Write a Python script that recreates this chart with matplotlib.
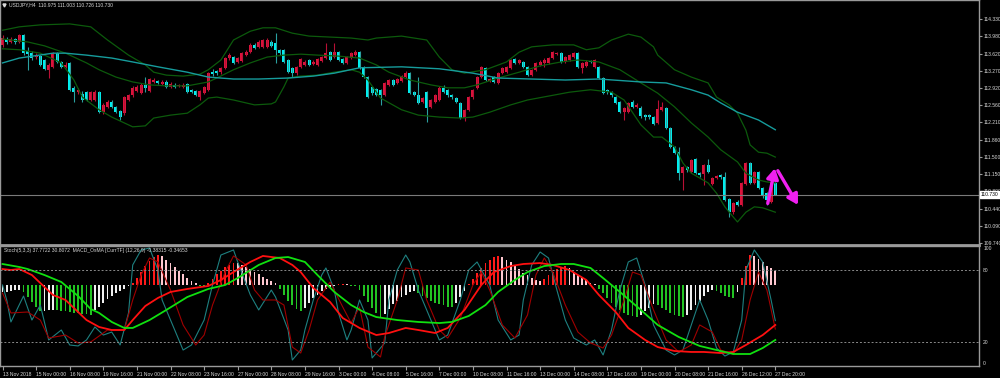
import numpy as np
import matplotlib.pyplot as plt

# ---- USDJPY H4 candles (13 Nov - 27 Dec 2018) ----
opens = [113.80, 113.90, 113.86, 113.92, 113.86, 114.00, 113.67, 113.63, 113.55, 113.57,
         113.49, 113.29, 113.35, 113.63, 113.45, 113.35, 113.43, 112.92, 112.83, 112.79,
         112.83, 112.67, 112.67, 112.83, 112.42, 112.53, 112.63, 112.53, 112.45, 112.40,
         112.67, 112.77, 112.86, 112.81, 112.98, 112.86, 113.04, 113.06, 113.00, 113.04,
         112.94, 112.98, 112.95, 112.94, 113.00, 112.88, 112.86, 112.73, 112.81, 112.88,
         113.24, 113.26, 113.24, 113.33, 113.53, 113.55, 113.45, 113.47, 113.59, 113.65,
         113.80, 113.76, 113.76, 113.76, 113.86, 113.84, 113.70, 113.70, 113.49, 113.33,
         113.22, 113.35, 113.39, 113.49, 113.41, 113.39, 113.47, 113.53, 113.65, 113.55,
         113.65, 113.51, 113.43, 113.53, 113.59, 113.65, 113.35, 113.14, 112.94, 112.90,
         112.88, 112.77, 112.98, 113.08, 113.02, 113.06, 113.14, 113.22, 112.83, 112.77,
         112.63, 112.83, 112.53, 112.63, 112.67, 112.92, 112.88, 112.77, 112.71, 112.61,
         112.30, 112.47, 112.73, 112.92, 113.14, 113.33, 113.06, 113.14, 113.02, 113.22,
         113.24, 113.33, 113.51, 113.43, 113.45, 113.35, 113.18, 113.29, 113.39, 113.43,
         113.43, 113.53, 113.61, 113.63, 113.45, 113.49, 113.55, 113.63, 113.33, 113.37,
         113.47, 113.35, 113.35, 113.12, 112.88, 112.83, 112.73, 112.63, 112.42, 112.42,
         112.63, 112.53, 112.51, 112.36, 112.36, 112.32, 112.20, 112.47, 112.51, 112.10,
         111.71, 111.60, 111.17, 111.30, 111.19, 111.46, 111.17, 111.15, 111.34, 110.95,
         111.07, 111.13, 111.09, 110.64, 110.37, 110.58, 110.52, 110.95, 111.38, 110.97,
         111.19, 110.87, 110.76, 110.58, 110.975]
highs = [114.00, 113.96, 113.96, 113.94, 114.03, 114.02, 113.75, 113.67, 113.63, 113.60,
         113.52, 113.42, 113.66, 113.66, 113.47, 113.45, 113.45, 112.95, 112.92, 112.86,
         112.86, 112.86, 112.87, 112.86, 112.60, 112.66, 112.66, 112.55, 112.47, 112.76,
         112.80, 112.95, 112.97, 113.01, 113.14, 113.13, 113.12, 113.09, 113.07, 113.07,
         113.03, 113.01, 113.00, 113.01, 113.02, 112.90, 112.88, 112.88, 112.96, 113.25,
         113.30, 113.28, 113.35, 113.55, 113.63, 113.58, 113.56, 113.66, 113.69, 113.83,
         113.83, 113.89, 113.93, 113.95, 113.89, 114.04, 113.72, 113.72, 113.51, 113.35,
         113.37, 113.53, 113.48, 113.51, 113.48, 113.53, 113.58, 113.84, 113.68, 113.84,
         113.68, 113.53, 113.57, 113.66, 113.69, 113.67, 113.37, 113.16, 112.96, 112.92,
         112.90, 113.04, 113.11, 113.11, 113.13, 113.19, 113.26, 113.24, 112.86, 113.14,
         112.74, 112.86, 112.69, 112.80, 112.95, 112.97, 112.90, 112.80, 112.74, 112.63,
         112.49, 112.76, 112.90, 113.16, 113.37, 113.35, 113.13, 113.16, 113.24, 113.35,
         113.37, 113.51, 113.53, 113.52, 113.47, 113.37, 113.31, 113.45, 113.48, 113.54,
         113.56, 113.68, 113.66, 113.66, 113.58, 113.62, 113.66, 113.66, 113.45, 113.48,
         113.50, 113.52, 113.37, 113.14, 112.90, 112.86, 112.75, 112.65, 112.53, 112.63,
         112.66, 112.60, 112.55, 112.38, 112.38, 112.34, 112.67, 112.63, 112.53, 112.12,
         111.73, 111.71, 111.32, 111.32, 111.47, 111.49, 111.19, 111.36, 111.46, 111.09,
         111.14, 111.15, 111.20, 110.66, 110.58, 110.62, 110.99, 111.40, 111.40, 111.22,
         111.22, 110.89, 110.79, 111.09, 111.003]
lows = [113.76, 113.82, 113.83, 113.82, 113.84, 113.60, 113.29, 113.50, 113.52, 113.36,
        113.28, 113.12, 113.32, 113.42, 113.32, 113.33, 112.85, 112.63, 112.80, 112.63,
        112.64, 112.64, 112.64, 112.40, 112.38, 112.50, 112.50, 112.40, 112.26, 112.37,
        112.64, 112.74, 112.83, 112.79, 112.83, 112.84, 113.02, 112.99, 112.97, 112.92,
        112.91, 112.91, 112.93, 112.91, 112.81, 112.81, 112.75, 112.67, 112.79, 112.85,
        113.17, 113.19, 113.21, 113.30, 113.50, 113.40, 113.42, 113.44, 113.57, 113.63,
        113.71, 113.73, 113.73, 113.73, 113.75, 113.43, 113.60, 113.42, 113.22, 113.14,
        113.19, 113.32, 113.36, 113.36, 113.38, 113.36, 113.44, 113.51, 113.47, 113.53,
        113.47, 113.40, 113.40, 113.51, 113.57, 113.30, 113.12, 112.71, 112.78, 112.75,
        112.57, 112.75, 112.96, 112.96, 113.00, 113.04, 113.12, 112.79, 112.75, 112.59,
        112.60, 112.22, 112.50, 112.60, 112.65, 112.81, 112.74, 112.70, 112.60, 112.28,
        112.24, 112.44, 112.70, 112.90, 113.12, 113.06, 113.04, 113.01, 113.00, 113.20,
        113.22, 113.30, 113.40, 113.41, 113.32, 113.16, 113.16, 113.26, 113.37, 113.35,
        113.41, 113.51, 113.59, 113.43, 113.42, 113.46, 113.53, 113.32, 113.22, 113.35,
        113.42, 113.32, 113.10, 112.79, 112.80, 112.74, 112.58, 112.40, 112.26, 112.40,
        112.50, 112.50, 112.31, 112.26, 112.29, 112.15, 112.17, 112.45, 112.07, 111.68,
        111.56, 111.03, 110.83, 111.20, 111.17, 111.15, 111.10, 110.93, 111.17, 110.92,
        111.05, 111.06, 110.60, 110.27, 110.34, 110.49, 110.49, 110.93, 110.94, 110.94,
        110.84, 110.67, 110.52, 110.55, 110.726]
closes = [113.94, 113.86, 113.92, 113.86, 114.00, 113.63, 113.61, 113.53, 113.59, 113.39,
          113.31, 113.39, 113.63, 113.45, 113.35, 113.39, 112.88, 112.83, 112.88, 112.67,
          112.67, 112.83, 112.83, 112.42, 112.57, 112.63, 112.53, 112.42, 112.32, 112.73,
          112.77, 112.92, 112.94, 112.98, 112.92, 113.10, 113.08, 113.02, 113.04, 112.94,
          113.00, 112.94, 112.97, 112.98, 112.83, 112.84, 112.77, 112.86, 112.94, 113.22,
          113.20, 113.22, 113.33, 113.53, 113.59, 113.43, 113.53, 113.63, 113.65, 113.80,
          113.74, 113.86, 113.90, 113.90, 113.78, 113.70, 113.63, 113.45, 113.24, 113.22,
          113.35, 113.51, 113.45, 113.39, 113.45, 113.51, 113.55, 113.63, 113.49, 113.65,
          113.49, 113.43, 113.55, 113.63, 113.65, 113.33, 113.14, 112.73, 112.81, 112.77,
          112.77, 113.02, 113.08, 112.98, 113.10, 113.16, 113.22, 112.81, 112.77, 112.61,
          112.71, 112.51, 112.67, 112.77, 112.92, 112.83, 112.77, 112.73, 112.63, 112.30,
          112.47, 112.73, 112.88, 113.14, 113.35, 113.08, 113.10, 113.04, 113.22, 113.33,
          113.35, 113.49, 113.43, 113.49, 113.35, 113.18, 113.29, 113.43, 113.45, 113.49,
          113.53, 113.65, 113.63, 113.45, 113.55, 113.59, 113.63, 113.35, 113.43, 113.45,
          113.45, 113.49, 113.12, 112.81, 112.83, 112.77, 112.61, 112.42, 112.51, 112.61,
          112.53, 112.57, 112.34, 112.32, 112.32, 112.18, 112.49, 112.53, 112.10, 111.71,
          111.58, 111.17, 111.30, 111.24, 111.44, 111.17, 111.13, 111.34, 111.19, 111.07,
          111.11, 111.09, 110.62, 110.37, 110.56, 110.52, 110.97, 111.38, 110.97, 111.19,
          110.87, 110.70, 110.62, 110.97, 110.730]

# Bollinger bands and slow MA, sampled at bar indices
band_idx = [0, 4, 9, 16, 21, 25, 30, 34, 36, 39, 43, 47, 49, 52, 55, 59, 62, 65, 69, 73,
            78, 83, 87, 89, 95, 101, 104, 107, 110, 115, 120, 123, 126, 131, 136, 139, 142,
            145, 149, 152, 155, 156, 160, 164, 168, 170, 173, 175, 177, 178, 180, 182, 184]
upper_band = [114.10, 114.17, 114.21, 114.23, 114.17, 113.90, 113.59, 113.39, 113.24, 113.18,
              113.16, 113.20, 113.29, 113.49, 113.90, 114.08, 114.15, 114.15, 114.04, 113.98,
              113.96, 113.94, 113.90, 113.94, 113.98, 113.90, 113.55, 113.29, 113.22, 113.29,
              113.45, 113.65, 113.76, 113.80, 113.80, 113.70, 113.74, 113.90, 114.02, 113.96,
              113.76, 113.59, 113.29, 113.14, 113.02, 112.73, 112.57, 112.40, 112.05, 111.75,
              111.60, 111.58, 111.50]
mid_idx = [0, 6, 10, 15, 20, 23, 27, 31, 35, 39, 44, 49, 51, 55, 59, 63, 67, 71, 75, 80,
           85, 89, 92, 97, 102, 106, 110, 113, 118, 123, 128, 133, 137, 142, 147, 152, 156,
           160, 164, 168, 171, 175, 177, 180, 182, 184]
mid_band = [113.92, 113.86, 113.78, 113.63, 113.43, 113.29, 113.14, 113.04, 112.98, 112.96,
            112.96, 113.04, 113.12, 113.29, 113.43, 113.55, 113.59, 113.61, 113.59, 113.57,
            113.53, 113.39, 113.24, 113.08, 112.98, 112.92, 112.92, 112.98, 113.12, 113.24,
            113.37, 113.45, 113.49, 113.45, 113.29, 113.02, 112.81, 112.53, 112.20, 111.91,
            111.65, 111.40, 111.17, 111.03, 110.99, 110.97]
low_idx = [0, 4, 9, 14, 17, 19, 23, 26, 31, 34, 36, 40, 44, 47, 49, 51, 55, 60, 64, 65,
           67, 68, 71, 75, 79, 83, 85, 87, 90, 95, 99, 104, 109, 112, 116, 121, 125, 130,
           135, 140, 145, 148, 152, 155, 157, 160, 162, 164, 168, 170, 172, 174, 175, 177,
           179, 181, 184]
lower_band = [113.72, 113.70, 113.63, 113.43, 113.08, 112.73, 112.47, 112.32, 112.12, 112.14,
              112.30, 112.36, 112.40, 112.57, 112.71, 112.73, 112.67, 112.57, 112.59, 112.63,
              112.94, 113.12, 113.16, 113.18, 113.24, 113.29, 113.24, 113.08, 112.71, 112.47,
              112.36, 112.32, 112.30, 112.32, 112.42, 112.57, 112.67, 112.75, 112.83, 112.88,
              112.83, 112.67, 112.16, 111.91, 111.91, 111.71, 111.38, 111.17, 110.97, 110.76,
              110.48, 110.27, 110.17, 110.37, 110.48, 110.46, 110.37]
ma_idx = [0, 4, 12, 15, 20, 26, 31, 37, 44, 49, 55, 61, 68, 74, 79, 85, 95, 104, 112, 118,
          126, 134, 142, 152, 158, 164, 168, 171, 175, 180, 184]
slow_ma = [113.43, 113.53, 113.63, 113.63, 113.59, 113.53, 113.45, 113.35, 113.24, 113.14,
           113.10, 113.10, 113.12, 113.16, 113.22, 113.33, 113.35, 113.31, 113.22, 113.12,
           113.10, 113.08, 113.10, 113.04, 113.02, 112.88, 112.77, 112.61, 112.42, 112.26,
           112.06]
last_price = 110.730
price_ticks = [114.330, 113.980, 113.620, 113.270, 112.920, 112.560, 112.210, 111.860,
               111.500, 111.150, 110.800, 110.440, 110.090, 109.740]

# ---- lower window (drawn on its 0-100 scale): OsMA histogram, MACD lines, Stochastic ----
osma = [-6, -5.5, -5, -4.5, -4, -6, -10, -14, -18, -22,
        -21.5, -21, -20.5, -21, -21.5, -22, -22.5, -23, -23.5, -24,
        -24.5, -25, -21, -18, -15, -12, -9, -7, -5, -3,
        -0.5, 2, 6, 11, 16, 20, 23, 25, 24, 21,
        18, 15, 12, 9, 6, 3.5, 1.5, -1, -1.5, 2,
        5, 9, 12, 15, 17, 18.5, 18, 16.5, 15, 13,
        11, 9, 7, 5, 3, 1.5, -3, -8, -13, -17,
        -20, -22, -19, -15, -11, -8, -5, -3, -2, -1,
        0.5, 1, 0.5, -0.5, -1, -4, -9, -14, -19, -23,
        -27, -24, -20, -16, -13, -10, -8, -6, -5, -7,
        -9, -11, -13, -15, -16, -17, -18, -18.5, -15, -10,
        -5, 1, 5, 10, 14, 18, 21, 23, 24, 23,
        21, 19, 16, 13, 10, 8, 6, 4, 3, 5,
        8, 11, 13, 15, 16, 14, 11, 8, 6, 4,
        2, 0.5, -3, -7, -11, -15, -18, -21, -23, -25,
        -26, -27, -25, -22, -19, -16, -17, -19, -21, -23,
        -25, -26, -27, -25, -21, -17, -13, -9, -6, -4,
        -5, -7, -9, -10, -11, -6, 6, 16, 25, 24,
        22, 19, 16, 14, 12]
osma_zero = 67.5

macd_idx = [0, 2, 4, 7, 10, 12, 15, 20, 23, 26, 29, 31, 34, 37, 40, 44, 49, 52, 55, 59,
            62, 66, 69, 71, 74, 78, 81, 85, 89, 92, 96, 99, 103, 106, 110, 114, 117, 121, 124, 128,
            131, 135, 139, 142, 146, 149, 153, 156, 160, 164, 167, 171, 174, 177, 181, 184]
macd_line = [80.8, 80, 80.8, 75.8, 65.8, 59.2, 55, 38.3, 32.5, 30, 30, 38.3, 50, 56.7, 61.7,
             64.2, 66.7, 71.7, 78.3, 86.7, 91.7, 90, 84.2, 78.3, 65, 53.3, 40, 31.7, 25.8, 27.5,
             31.7, 30, 27.5, 31.7, 46.7, 67.5, 78.3, 83.3, 85, 85.8, 84.2, 80, 71.7, 59.2, 45,
             31.7, 21.7, 15.8, 12.5, 11.7, 11.7, 10.8, 11.7, 17.5, 25.8, 34.2]
sig_idx = [0, 4, 6, 10, 14, 18, 21, 23, 26, 29, 31, 35, 39, 44, 49, 53, 56, 61, 65, 68,
           72, 75, 79, 83, 86, 89, 94, 99, 104, 107, 111, 115, 118, 122, 125, 129, 133, 136, 140, 143,
           147, 152, 156, 161, 166, 171, 174, 178, 181, 184]
signal_line = [85, 82.5, 80.8, 75.8, 70, 58.3, 47.5, 44.2, 36.7, 31.7, 31.7, 38.3, 46.7, 57.5,
               64.2, 67.5, 73.3, 84.2, 90, 90.8, 86.7, 75.8, 61.7, 50.8, 45, 40.8, 38.3, 36.7,
               35.8, 36.7, 41.7, 50.8, 61.7, 71.7, 78.3, 83.3, 85, 85, 81.7, 73.3, 61.7, 46.7,
               34.2, 24.2, 16.7, 12.5, 10, 10, 15, 21.7]

k_idx = [0, 1, 2, 5, 7, 9, 11, 14, 16, 18, 20, 22, 24, 26, 28, 30, 31, 33, 35, 37,
         38, 41, 43, 45, 48, 50, 52, 55, 56, 59, 61, 64, 65, 68, 69, 71, 72, 74, 76, 77,
         79, 80, 82, 83, 85, 87, 88, 91, 92, 94, 96, 97, 99, 102, 104, 106, 109, 111, 113, 116,
         118, 121, 123, 124, 126, 128, 130, 132, 134, 136, 139, 141, 143, 145, 147, 149, 151, 153,
         155, 158, 160, 162, 164, 166, 168, 170, 172, 174, 176, 177, 179, 181, 183, 184]
stoch_k = [67.5, 55, 36.7, 58.3, 38.3, 50.8, 21.7, 30, 17.5, 16.7, 21.7, 32.5, 25.8, 28.3,
           17.5, 44.2, 84.2, 96.7, 98.3, 80, 55, 30, 13.3, 17.5, 38.3, 67.5, 92.5, 96.7, 86.7,
           59.2, 46.7, 63.3, 57.5, 30, 5, 13.3, 30, 55, 75.8, 81.7, 63.3, 44.2, 21.7, 30, 55,
           38.3, 6.7, 19.2, 55, 80, 92.5, 86.7, 63.3, 38.3, 21.7, 25.8, 55, 80, 86.7, 67.5,
           38.3, 21.7, 25.8, 55, 84.2, 95, 90, 63.3, 38.3, 23.3, 17.5, 21.7, 9.2, 30, 63.3,
           86.7, 90, 67.5, 34.2, 13.3, 9.2, 13.3, 34.2, 55, 38.3, 15, 8.3, 11.7, 38.3, 80,
           96.7, 86.7, 55, 37.8]
d_idx = [0, 2, 6, 9, 11, 15, 18, 21, 25, 29, 31, 33, 35, 37, 40, 43, 46, 48, 50, 53,
         55, 58, 60, 62, 65, 67, 69, 71, 73, 75, 78, 81, 83, 85, 87, 90, 91, 94, 96, 99,
         101, 104, 106, 109, 112, 114, 116, 119, 122, 125, 127, 129, 131, 134, 137, 140, 143, 145,
         148, 150, 152, 155, 158, 161, 164, 166, 169, 171, 174, 176, 178, 180, 182, 184]
stoch_d = [60.8, 44.2, 45, 38.3, 23.3, 25.8, 19.2, 20, 30, 30, 55, 75.8, 90, 86.7, 63.3, 34.2,
           17.5, 25.8, 50.8, 78.3, 91.7, 84.2, 63.3, 55, 55, 50.8, 15.8, 10.8, 30, 55, 70, 49.2,
           35.8, 49.2, 15.8, 7.5, 24.2, 55, 81.7, 80, 55, 30, 23.3, 40, 67.5, 78.3, 63.3, 34.2,
           23.3, 42.5, 75.8, 90, 78.3, 50.8, 28.3, 19.2, 15, 25.8, 55, 78.3, 75.8, 46.7, 21.7,
           11.7, 17.5, 34.2, 28.3, 13.3, 10, 21.7, 55, 78.3, 63.3, 30.8]

time_labels = ["13 Nov 2018", "15 Nov 00:00", "16 Nov 08:00", "19 Nov 16:00", "21 Nov 00:00",
               "22 Nov 08:00", "23 Nov 16:00", "27 Nov 00:00", "28 Nov 08:00", "29 Nov 16:00",
               "3 Dec 00:00", "4 Dec 08:00", "5 Dec 16:00", "7 Dec 00:00", "10 Dec 08:00",
               "11 Dec 16:00", "13 Dec 00:00", "14 Dec 08:00", "17 Dec 16:00", "19 Dec 00:00",
               "20 Dec 08:00", "21 Dec 16:00", "26 Dec 12:00", "27 Dec 20:00"]

BG = "black"
GRID = "#9a9a9a"
TXT = "#d8d8d8"
BULL = "#dc143c"
BEAR = "#00f0f0"
FS = 3.6

plt.rcParams["font.family"] = ["Liberation Sans", "DejaVu Sans"]
fig = plt.figure(figsize=(10, 3.78), dpi=100, facecolor=BG)
ax1 = fig.add_axes([0.0, 1 - 245 / 378, 0.979, 245 / 378], facecolor=BG)
ax2 = fig.add_axes([0.0, 1 - 366 / 378, 0.979, 120 / 378], facecolor=BG)

x = np.arange(len(closes))
o = np.array(opens)
c = np.array(closes)
up = c >= o

# candles
ax1.vlines(x[up], np.array(lows)[up], np.array(highs)[up], color="#b81035", lw=0.8)
ax1.vlines(x[~up], np.array(lows)[~up], np.array(highs)[~up], color="#2aa0a0", lw=0.8)
body = np.where(np.abs(c - o) < 0.012, 0.012, c - o)
ax1.bar(x[up], body[up], bottom=o[up], width=0.68, color=BULL, lw=0)
ax1.bar(x[~up], body[~up], bottom=o[~up], width=0.68, color=BEAR, lw=0)

# indicators
ax1.plot(band_idx, upper_band, color="#0c5a0c", lw=0.9)
ax1.plot(mid_idx, mid_band, color="#0c5a0c", lw=0.9)
ax1.plot(low_idx, lower_band, color="#0c5a0c", lw=0.9)
ax1.plot(ma_idx, slow_ma, color="#169c9c", lw=1.0)
ax1.axhline(last_price, color="#7a7a7a", lw=0.8)

# projected move arrows
ax1.annotate("", xy=(183.9, 111.27), xytext=(182.2, 110.55),
             arrowprops=dict(arrowstyle="-|>,head_length=0.6,head_width=0.35",
                             color="#f020f0", lw=2.4, shrinkA=0, shrinkB=0))
ax1.annotate("", xy=(189.4, 110.52), xytext=(184.6, 111.22),
             arrowprops=dict(arrowstyle="-|>,head_length=0.6,head_width=0.35",
                             color="#f020f0", lw=2.4, shrinkA=0, shrinkB=0))

xmin, xmax = -0.6, 232.5
ax1.set_xlim(xmin, xmax)
ax1.set_ylim(114.72 - 0.0205 * 245, 114.72)
ax1.yaxis.tick_right()
ax1.set_yticks(price_ticks)
ax1.set_yticklabels([f"{p:.3f}" for p in price_ticks])
ax1.tick_params(axis="y", colors=GRID, labelcolor=TXT, labelsize=FS, length=2, pad=1)
ax1.set_xticks([])
ax1.annotate(f"{last_price:.3f}", xy=(1.0, last_price), xycoords=("axes fraction", "data"),
             xytext=(1.5, 0), textcoords="offset points", ha="left", va="center",
             fontsize=FS, color="black",
             bbox=dict(boxstyle="square,pad=0.2", fc="white", ec="white"))
ax1.text(0.009, 0.99, "USDJPY,H4  110.975 111.003 110.726 110.730", transform=ax1.transAxes,
         ha="left", va="top", fontsize=FS, color=TXT)
ax1.plot([0.004], [0.98], marker="v", ms=2.2, color=TXT, transform=ax1.transAxes)

# lower window
colors = []
for i, h in enumerate(osma):
    prev = osma[i - 1] if i > 0 else h
    if h >= 0:
        colors.append("#ff1a1a" if h >= prev else "#ffc8d0")
    else:
        colors.append("#22c322" if h < prev else "#f0f0f0")
ax2.bar(x, osma, bottom=osma_zero, width=0.45, color=colors, lw=0)
ax2.plot(k_idx, stoch_k, color="#1e8080", lw=0.8)
ax2.plot(d_idx, stoch_d, color="#a00000", lw=0.8)
ax2.plot(macd_idx, macd_line, color="#ff1010", lw=1.3)
ax2.plot(sig_idx, signal_line, color="#10e010", lw=1.3)
for lvl in (80, 20):
    ax2.axhline(lvl, color="#8a8a8a", lw=0.7, ls=(0, (2, 2)))

ax2.set_xlim(xmin, xmax)
ax2.set_ylim(0, 100)
ax2.yaxis.tick_right()
ax2.set_yticks([100, 80, 20, 0])
ax2.set_yticklabels(["100", "80", "20", "0"])
for lab, va in zip(ax2.get_yticklabels(), ["top", "center", "center", "bottom"]):
    lab.set_va(va)
ax2.tick_params(axis="y", colors=BG, labelcolor=TXT, labelsize=FS, length=0, pad=3)
ax2.set_xticks(np.arange(0, 185, 8))
ax2.set_xticklabels(time_labels, ha="left")
ax2.tick_params(axis="x", colors=GRID, labelcolor=TXT, labelsize=FS, length=3, pad=1)
ax2.text(0.004, 0.985, "Stoch(5,3,3) 37.7722 30.8072  MACD_OsMA [CurrTF] (12,26,9) -0.38315 -0.34653",
         transform=ax2.transAxes, ha="left", va="top", fontsize=FS, color=TXT)

for ax in (ax1, ax2):
    for s in ax.spines.values():
        s.set_color(GRID)
        s.set_linewidth(1.0)
ax1.spines["bottom"].set_linewidth(2.0)

fig.savefig("out.png", dpi=100, facecolor=BG)
